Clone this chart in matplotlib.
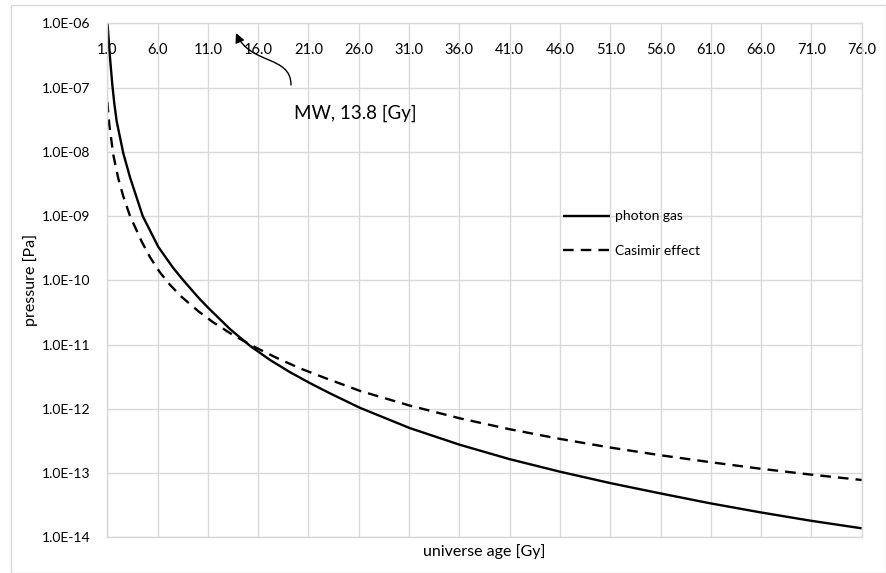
import matplotlib
matplotlib.use("Agg")
import matplotlib.pyplot as plt
from matplotlib.ticker import FixedLocator, FuncFormatter
from matplotlib.patches import FancyArrowPatch, Rectangle
from matplotlib.path import Path

plt.rcParams['font.family'] = ['Lato', 'DejaVu Sans']

# ---- data ----
photon_age = [1.0, 1.25, 1.5, 1.7, 1.93, 2.59, 3.26, 4.52, 6.07, 7.56, 8.56, 10.0, 11.04,
              13.2, 15.19, 17.18, 19.16, 21.15, 23.14, 26.12, 31.09, 36.06, 41.03, 46.0,
              50.96, 55.93, 60.9, 65.9, 70.85, 76.0]
photon_p = [1.12e-6, 3.16e-7, 1.1e-7, 5.6e-8, 3.0e-8, 9.5e-9, 4.0e-9, 1.0e-9, 3.31e-10,
            1.55e-10, 1.0e-10, 5.5e-11, 3.72e-11, 1.74e-11, 9.55e-12, 5.75e-12, 3.72e-12,
            2.51e-12, 1.74e-12, 1.035e-12, 5.0e-13, 2.75e-13, 1.64e-13, 1.05e-13, 7.0e-14,
            4.84e-14, 3.39e-14, 2.45e-14, 1.82e-14, 1.38e-14]

casimir_age = [1.0, 1.2, 1.6, 2.1, 2.6, 3.26, 4.42, 5.24, 6.2, 7.23, 8.4, 10.05, 11.54,
               13.52, 15.68, 17.84, 20.15, 22.64, 26.12, 31.09, 36.06, 41.03, 46.0, 50.96,
               55.93, 60.9, 65.9, 70.85, 76.0]
casimir_p = [6.0e-8, 2.63e-8, 8.9e-9, 3.8e-9, 2.0e-9, 1.0e-9, 4.0e-10, 2.3e-10, 1.35e-10,
             8.5e-11, 5.5e-11, 3.3e-11, 2.21e-11, 1.4e-11, 9.1e-12, 6.2e-12, 4.27e-12,
             3.02e-12, 1.9e-12, 1.12e-12, 7.1e-13, 4.8e-13, 3.4e-13, 2.5e-13, 1.9e-13,
             1.48e-13, 1.17e-13, 9.5e-14, 7.8e-14]

x_ticks = [1, 6, 11, 16, 21, 26, 31, 36, 41, 46, 51, 56, 61, 66, 71, 76]
y_ticks = [1e-14, 1e-13, 1e-12, 1e-11, 1e-10, 1e-9, 1e-8, 1e-7, 1e-6]
series_labels = ["photon gas", "Casimir effect"]
annotation_text = "MW, 13.8 [Gy]"

GRID = '#d9d9d9'

fig = plt.figure(figsize=(8.87, 5.73), dpi=100)
fig.patches.append(Rectangle((11/887, 0.5/573), (886-11)/887, (572.3-4.3)/573,
                             transform=fig.transFigure, fill=False, edgecolor=GRID, lw=1))
ax = fig.add_axes([107.3/887, 1-537.3/573, (861.7-107.3)/887, (537.3-23.3)/573])

ax.plot(photon_age, photon_p, color='black', lw=1.7, solid_capstyle='butt',
        solid_joinstyle='round', label=series_labels[0])
ax.plot(casimir_age, casimir_p, color='black', lw=1.7, ls=(0, (4.5, 3)),
        dash_capstyle='butt', label=series_labels[1])

ax.set_yscale('log')
ax.set_xlim(1, 76)
ax.set_ylim(1e-14, 1e-6)
ax.yaxis.set_major_locator(FixedLocator(y_ticks))
ax.yaxis.set_minor_locator(FixedLocator([]))
ax.yaxis.set_major_formatter(FuncFormatter(lambda v, p: f"{v:.1E}"))
ax.xaxis.set_major_locator(FixedLocator(x_ticks))
ax.xaxis.set_major_formatter(FuncFormatter(lambda v, p: f"{v:.1f}"))

ax.xaxis.set_ticks_position('top')
ax.tick_params(axis='x', which='both', length=0, pad=-24, labeltop=True,
               labelbottom=False, labelsize=10.5, colors='#000000')
ax.tick_params(axis='y', which='both', length=0, pad=12, labelsize=10)

ax.grid(True, color=GRID, lw=1)
ax.set_axisbelow(True)
for s in ax.spines.values():
    s.set_color(GRID)
    s.set_linewidth(1)

ax.set_xlabel("universe age [Gy]", fontsize=11.5, labelpad=5)
ax.xaxis.set_label_position('bottom')
ax.set_ylabel("pressure [Pa]", fontsize=11.5, labelpad=3)

leg = ax.legend(loc='upper left', bbox_to_anchor=(0.604, 0.636), frameon=False,
                fontsize=10, handlelength=3.4, handletextpad=0.35, labelspacing=1.6,
                borderpad=0, borderaxespad=0)

# annotation
ax.text(19.6, 4.0e-8, annotation_text, fontsize=13.5, ha='left', va='center')
verts = [(0.2435, 0.880), (0.2435, 0.9383), (0.1892, 0.9189), (0.1706, 0.9811)]
path = Path(verts, [Path.MOVETO, Path.CURVE4, Path.CURVE4, Path.CURVE4])
arr = FancyArrowPatch(path=path, arrowstyle='-|>', mutation_scale=14, lw=1,
                      color='black', transform=ax.transAxes, shrinkA=0, shrinkB=0)
ax.add_patch(arr)

fig.savefig("out.png", dpi=100)
